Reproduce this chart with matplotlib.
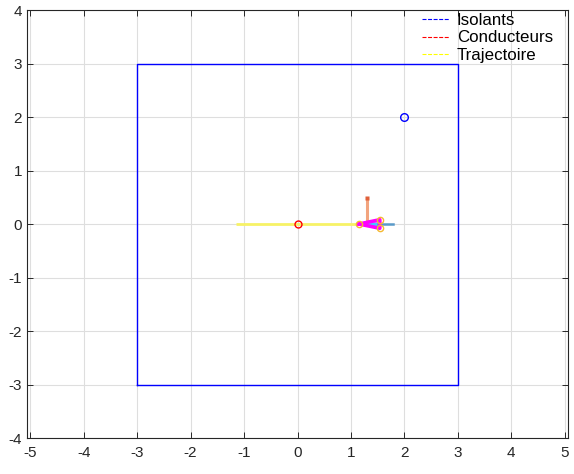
import matplotlib
matplotlib.use("Agg")
import matplotlib.pyplot as plt
from matplotlib.lines import Line2D

plt.rcParams['font.family'] = ['Liberation Sans', 'DejaVu Sans']
plt.rcParams['axes.unicode_minus'] = False

# arena (isolating walls) and objects
wall_x = [-3, 3, 3, -3, -3]
wall_y = [-3, -3, 3, 3, -3]
target_x, target_y = [2], [2]
start_x, start_y = [0], [0]

# trajectory
traj_x = [-1.15, 1.15]
traj_y = [0, 0]

# robot body (triangle) and sensors
body_x = [1.15, 1.54, 1.54, 1.15]
body_y = [0, 0.08, -0.08, 0]
corner_x = [1.15, 1.54, 1.54]
corner_y = [0, 0.08, -0.08]
side_x = [1.30, 1.30]
side_y = [0, 0.50]
front_x = [1.50, 1.79]
front_y = [0, 0]

fig = plt.figure(figsize=(5.74, 4.74), dpi=100)
ax = fig.add_axes([27/574, 1 - 438/474, 541/574, 428/474])

ax.plot(wall_x, wall_y, color='#0000ff', lw=1.0)
ax.plot(traj_x, traj_y, color='#f7f266', lw=2.0, solid_capstyle='butt')
ax.plot(side_x, side_y, color='#f2a47e', lw=2.2, solid_capstyle='butt')
ax.plot([1.30], [0.49], marker='s', ms=2.5, color='#e0603a', mec='none')
ax.fill(body_x, body_y, color='#ff80ff', lw=0)
ax.plot([1.32, 1.50], [0, 0], color='#40c8ff', lw=2.5)
ax.plot(front_x, front_y, color='#5a9ac8', lw=1.8)
ax.plot(body_x, body_y, color='#ff00ff', lw=2.6)
ax.plot(corner_x, corner_y, 'o', ms=4.5, mfc='none', mec='#f5b830', mew=1.0)
ax.plot(start_x, start_y, 'o', ms=5, mfc='none', mec='#ff0000', mew=1.0)
ax.plot(target_x, target_y, 'o', ms=5.5, mfc='none', mec='#0000ff', mew=1.0)

ax.set_xlim(-5.06, 5.06)
ax.set_ylim(-4, 4)
ax.set_xticks(range(-5, 6))
ax.set_yticks(range(-4, 5))
ax.grid(True, color='#dedede', lw=0.8)
ax.set_axisbelow(True)
ax.tick_params(direction='in', length=4, top=True, right=True,
               labelsize=11, colors='#262626', width=0.7)
ax.tick_params(axis='x', pad=6)
for s in ax.spines.values():
    s.set_color('#262626')
    s.set_linewidth(0.8)

handles = [
    Line2D([], [], color='#0000ff', ls=(0, (3.6, 1.4)), lw=0.8),
    Line2D([], [], color='#ff0000', ls=(0, (3.6, 1.4)), lw=0.8),
    Line2D([], [], color='#ffff00', ls=(0, (3.6, 1.4)), lw=0.8),
]
labels = ['Isolants', 'Conducteurs', 'Trajectoire']
ax.legend(handles, labels, loc='upper right', frameon=False, fontsize=12.2,
          handlelength=1.6, handletextpad=0.45, labelspacing=0.15,
          borderaxespad=0.0, bbox_to_anchor=(0.985, 1.009))

fig.savefig('out.png', dpi=100)
